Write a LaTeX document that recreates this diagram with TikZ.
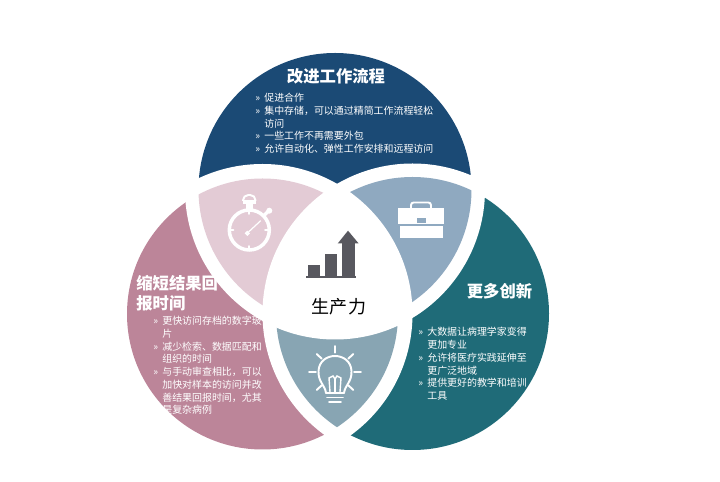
\documentclass[tikz,border=0pt]{standalone}
\usepackage{fontspec}
\setmainfont{Noto Sans CJK SC}
\usepackage{xcolor}
\definecolor{navy}{HTML}{1B4A75}
\definecolor{rose}{HTML}{BC8599}
\definecolor{teal}{HTML}{1F6B78}
\definecolor{lightrose}{HTML}{E3CBD5}
\definecolor{steel}{HTML}{8FA9C0}
\definecolor{greyteal}{HTML}{88A5B3}
\definecolor{iconGrey}{HTML}{58585F}
\newcommand{\itm}{\makebox[5.1pt][l]{»}}
\newcommand{\cnt}{\hspace*{5.1pt}}
\tikzset{
  titlelabel/.style={white,inner sep=0pt,font=\fontsize{9.3}{11.4}\selectfont\bfseries},
  listlabel/.style={white,inner sep=0pt,anchor=north west,align=left,font=\fontsize{5.66}{7.25}\selectfont},
  iconline/.style={white,line width=1.1pt,line cap=round}
}
\begin{document}
\begin{tikzpicture}[x=0.02cm,y=-0.02cm]
\useasboundingbox (0,0) rectangle (720,482);
\coordinate (topc) at (335,189.5);
\coordinate (leftc) at (262.5,314);
\coordinate (rightc) at (412.5,313.5);
\def\radT{136.5}
\def\radL{135.5}
\def\radR{136.5}
\def\bndT{150}
\def\bndL{150}
\def\bndR{150}

% three discs
\fill[rose] (leftc) circle (\radL);
\fill[teal] (rightc) circle (\radR);
\fill[navy] (topc) circle (\radT);

% white bands
\begin{scope}
\clip (leftc) circle (\bndL);
\fill[white] (topc) circle (\bndT);
\fill[white] (rightc) circle (\bndR);
\end{scope}
\begin{scope}
\clip (topc) circle (\bndT);
\fill[white] (rightc) circle (\bndR);
\end{scope}

% petals
\begin{scope}
\clip (leftc) circle (\radL);
\fill[lightrose] (topc) circle (\radT);
\fill[greyteal] (rightc) circle (\radR);
\end{scope}
\begin{scope}
\clip (topc) circle (\radT);
\fill[steel] (rightc) circle (\radR);
\end{scope}

% centre
\begin{scope}
\clip (leftc) circle (\bndL);
\clip (topc) circle (\bndT);
\fill[white] (rightc) circle (\bndR);
\end{scope}

% top text
\node[titlelabel] (toptitle) at (336,76) {改进工作流程};
\node[listlabel] (toplist) at (255,93) {\itm 促进合作\\\itm 集中存储，可以通过精简工作流程轻松\\\cnt 访问\\\itm 一些工作不再需要外包\\\itm 允许自动化、弹性工作安排和远程访问};

% left text
\node[titlelabel,anchor=north west,align=left] (lefttitle) at (136,275) {缩短结果回\\报时间};
\node[listlabel] (leftlist) at (153,316) {\itm 更快访问存档的数字玻\\\cnt 片\\\itm 减少检索、数据匹配和\\\cnt 组织的时间\\\itm 与手动审查相比，可以\\\cnt 加快对样本的访问并改\\\cnt 善结果回报时间，尤其\\\cnt 是复杂病例};

% right text
\node[titlelabel] (righttitle) at (499.5,291) {更多创新};
\node[listlabel] (rightlist) at (418,327) {\itm 大数据让病理学家变得\\\cnt 更加专业\\\itm 允许将医疗实践延伸至\\\cnt 更广泛地域\\\itm 提供更好的教学和培训\\\cnt 工具};

% centre text
\node[inner sep=0pt,font=\fontsize{10.25}{12}\selectfont] (centrelabel) at (339,307) {生产力};

% bar chart
\fill[iconGrey] (306,275.7) rectangle (356.3,277.7);
\fill[iconGrey] (307.7,265) rectangle (320,277);
\fill[iconGrey] (325,254) rectangle (337.3,277);
\fill[iconGrey] (342.3,243) rectangle (354.7,277);
\fill[iconGrey] (337.7,243.5) -- (348,230.7) -- (358.7,243.5) -- cycle;

% briefcase
\fill[white] (398.3,208) rectangle (444,224.5);
\fill[white] (400,226) rectangle (442.7,238.5);
\draw[white,line width=1.1pt,rounded corners=1.5pt] (411,208) -- (411,202.5) -- (431,202.5) -- (431,208);
\fill[steel] (417.3,217.7) rectangle (425.7,223.3);

% stopwatch
\draw[white,line width=2pt] (249.3,230) circle (20);
\fill[white] (246,204) rectangle (252.6,211);
\draw[white,line width=1.1pt,rounded corners=3pt] (243,201) -- (243,195) -- (255.5,195) -- (255.5,201);
\fill[white] (243,200) rectangle (255.5,204);
\draw[white,line width=2pt] (264,215.5) -- (268,211.5);
\fill[white] (269.3,210.7) circle (3);
\draw[iconline] (249.3,211) -- (249.3,214);
\draw[iconline] (249.3,246) -- (249.3,249);
\draw[iconline] (230.5,230) -- (233.5,230);
\draw[iconline] (265,230) -- (268,230);
\draw[white,line width=0.7pt] (248.5,232) -- (260.7,220.7);
\draw[white,line width=0.9pt] (247.3,233.3) circle (1.6);

% light bulb
\draw[iconline] (335,346) -- (335,352.7);
\draw[iconline] (309,371.7) -- (316,371.7);
\draw[iconline] (354,371.7) -- (361,371.7);
\draw[iconline] (316.7,354) -- (321.7,358.7);
\draw[iconline] (353.3,354) -- (348.3,358.7);
\draw[iconline] (316.7,390) -- (321.7,385.3);
\draw[iconline] (353.3,390) -- (348.3,385.3);
\draw[iconline] (326,393) .. controls (325,385) and (318,382) .. (318.5,371) .. controls (319,361) and (327,356) .. (335,356) .. controls (343,356) and (351,361) .. (351.5,371) .. controls (352,382) and (345,385) .. (344,393);
\draw[white,line width=0.8pt] (330,392) -- (329,378) -- (333,376) -- (335,379) -- (337,376) -- (341,378) -- (340,392);
\draw[white,line width=0.8pt] (335,379) -- (335,392);
\draw[iconline] (326,393.3) -- (344,393.3);
\draw[iconline] (327,397.5) -- (343,397.5);
\draw[iconline] (329,401.7) -- (341,401.7);
\end{tikzpicture}
\end{document}
